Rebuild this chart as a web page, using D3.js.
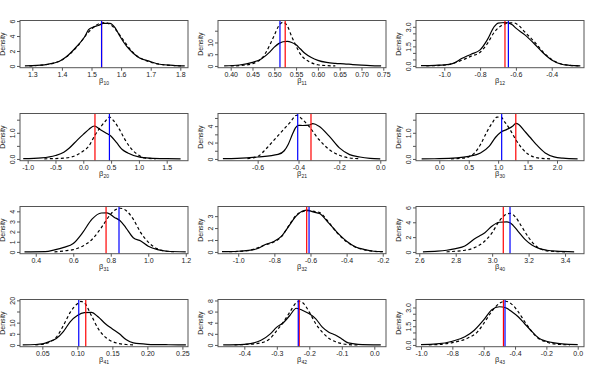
<!DOCTYPE html>
<html><head><meta charset="utf-8">
<script src="https://cdn.jsdelivr.net/npm/d3@7"></script>
<style>
body{margin:0;background:#fff}
svg{display:block}
text{font-family:"Liberation Sans",Arial,Helvetica,sans-serif;fill:#222}
</style>
</head><body><svg id="c" width="595" height="372"></svg>
<script>
// ---- data ----
const subscripts = ["10","11","12","20","21","30","31","32","40","41","42","43"];

const xTickLabels = [
  ["1.3","1.4","1.5","1.6","1.7","1.8"],
  ["0.40","0.45","0.50","0.55","0.60","0.65","0.70","0.75"],
  ["-1.0","-0.8","-0.6","-0.4"],
  ["-1.0","-0.5","0.0","0.5","1.0","1.5"],
  ["-0.6","-0.4","-0.2","0.0"],
  ["0.0","0.5","1.0","1.5","2.0"],
  ["0.4","0.6","0.8","1.0","1.2"],
  ["-1.0","-0.8","-0.6","-0.4","-0.2"],
  ["2.6","2.8","3.0","3.2","3.4"],
  ["0.05","0.10","0.15","0.20","0.25"],
  ["-0.4","-0.3","-0.2","-0.1","0.0"],
  ["-1.0","-0.8","-0.6","-0.4","-0.2","0.0"]
];

const yTickValues = [
  [0,2,4,6],
  [0,5,10,15],
  [0,0.5,1,1.5,2,2.5,3],
  [0,0.5,1,1.5],
  [0,1,2,3,4,5],
  [0,0.5,1,1.5],
  [0,1,2,3,4],
  [0,1,2,3],
  [0,2,4,6],
  [0,5,10,15,20],
  [0,2,4,6,8],
  [0,0.5,1,1.5,2,2.5,3]
];

const yTickLabels = [
  ["0","2","4","6"],
  ["0","5","10",""],
  ["0.0","","","1.5","","","3.0"],
  ["0.0","","1.0",""],
  ["0","","2","","4",""],
  ["0.0","","1.0",""],
  ["0","1","2","3","4"],
  ["0","1","2","3"],
  ["0","2","4","6"],
  ["0","5","10","","20"],
  ["0","2","4","6","8"],
  ["0.0","","","1.5","","","3.0"]
];

const xLimits = [
  [1.2584,1.826],[0.3709,0.7562],[-1.158,-0.2196],
  [-1.138,1.883],[-0.794,0.028],[-0.396,2.459],
  [0.316,1.212],[-1.112,-0.182],[2.582,3.504],
  [0.0181,0.258],[-0.481,0.036],[-1.032,0.040]
];

const yMaxima = [5.84,18.6,3.35,1.67,5.33,1.67,4.3,3.66,5.89,19.6,7.86,3.5];

const redLines  = [1.534,0.525,-0.661,0.21,-0.339,1.30,0.775,-0.621,3.061,0.112,-0.231,-0.474];
const blueLines = [1.534,0.513,-0.642,0.47,-0.404,1.06,0.844,-0.608,3.098,0.102,-0.234,-0.464];

const solidDensity = [
  [[1.275,0.01],[1.30,0.04],[1.35,0.22],[1.39,0.59],[1.416,1.26],[1.45,2.6],[1.478,3.96],[1.49,4.86],[1.506,5.2],[1.523,5.4],[1.54,5.68],[1.562,5.7],[1.58,5.1],[1.596,3.96],[1.619,2.6],[1.641,1.7],[1.664,1.04],[1.692,0.68],[1.73,0.23],[1.776,0.09],[1.815,0.01]],
  [[0.385,0.05],[0.42,0.4],[0.45,1.5],[0.47,3.0],[0.49,6.0],[0.50,8.0],[0.51,9.5],[0.52,10.3],[0.53,10.5],[0.54,10.0],[0.55,9.0],[0.56,7.2],[0.57,5.4],[0.585,3.6],[0.60,2.4],[0.62,1.5],[0.64,1.1],[0.66,0.9],[0.68,0.6],[0.70,0.35],[0.72,0.15],[0.745,0.05]],
  [[-1.13,0.02],[-1.05,0.05],[-1.0,0.08],[-0.95,0.2],[-0.9,0.59],[-0.85,0.9],[-0.8,1.23],[-0.76,2.0],[-0.72,3.03],[-0.70,3.28],[-0.66,3.33],[-0.62,3.15],[-0.60,2.9],[-0.55,2.38],[-0.5,1.74],[-0.45,1.03],[-0.4,0.46],[-0.35,0.15],[-0.3,0.05],[-0.24,0.01]],
  [[-1.08,0.01],[-0.75,0.04],[-0.5,0.13],[-0.35,0.26],[-0.25,0.42],[-0.1,0.74],[0.0,0.94],[0.1,1.13],[0.2,1.26],[0.3,1.13],[0.4,1.0],[0.5,0.87],[0.6,0.62],[0.7,0.36],[0.8,0.23],[1.0,0.08],[1.2,0.03],[1.5,0.01],[1.75,0.005]],
  [[-0.77,0.03],[-0.7,0.07],[-0.6,0.24],[-0.5,0.55],[-0.47,1.0],[-0.45,1.8],[-0.43,3.0],[-0.415,3.8],[-0.40,4.1],[-0.38,4.08],[-0.35,4.12],[-0.33,4.3],[-0.3,4.0],[-0.25,2.78],[-0.2,1.35],[-0.15,0.53],[-0.1,0.24],[-0.05,0.08],[0.0,0.02]],
  [[-0.3,0.005],[0.0,0.01],[0.3,0.04],[0.5,0.1],[0.7,0.23],[0.85,0.49],[0.95,0.81],[1.05,1.03],[1.15,1.13],[1.25,1.26],[1.3,1.36],[1.35,1.32],[1.45,1.06],[1.55,0.81],[1.65,0.55],[1.8,0.23],[1.95,0.08],[2.1,0.03],[2.35,0.005]],
  [[0.34,0.01],[0.45,0.03],[0.5,0.2],[0.55,0.45],[0.6,0.83],[0.65,1.9],[0.7,3.23],[0.75,3.83],[0.78,3.85],[0.82,3.4],[0.85,3.07],[0.88,2.4],[0.92,1.4],[0.96,1.07],[1.0,0.57],[1.05,0.23],[1.1,0.07],[1.2,0.01]],
  [[-1.09,0.02],[-1.0,0.06],[-0.9,0.25],[-0.85,0.62],[-0.8,0.9],[-0.76,1.32],[-0.72,2.16],[-0.68,3.0],[-0.64,3.45],[-0.62,3.5],[-0.58,3.33],[-0.55,3.22],[-0.5,2.44],[-0.45,1.6],[-0.4,0.9],[-0.35,0.42],[-0.3,0.2],[-0.25,0.06],[-0.2,0.02]],
  [[2.62,0.02],[2.7,0.1],[2.75,0.23],[2.8,0.45],[2.85,0.8],[2.9,1.7],[2.93,2.15],[2.96,2.6],[3.0,3.5],[3.04,4.0],[3.08,4.05],[3.1,3.9],[3.14,2.85],[3.18,1.7],[3.22,0.9],[3.26,0.45],[3.3,0.23],[3.35,0.1],[3.45,0.02]],
  [[0.022,0.05],[0.04,0.2],[0.05,0.5],[0.06,1.5],[0.07,2.9],[0.08,6.0],[0.09,10.5],[0.10,13.2],[0.11,14.5],[0.12,14.6],[0.13,12.5],[0.14,9.5],[0.15,7.2],[0.16,5.0],[0.17,2.3],[0.18,0.9],[0.20,0.3],[0.23,0.1],[0.255,0.05]],
  [[-0.465,0.02],[-0.4,0.12],[-0.35,0.8],[-0.32,2.0],[-0.3,3.2],[-0.28,4.0],[-0.26,5.3],[-0.24,6.6],[-0.22,6.2],[-0.2,5.6],[-0.18,4.7],[-0.16,3.2],[-0.14,2.3],[-0.12,1.8],[-0.1,1.08],[-0.08,0.36],[-0.05,0.12],[0.02,0.02]],
  [[-1.0,0.02],[-0.9,0.08],[-0.8,0.3],[-0.72,0.65],[-0.66,1.18],[-0.6,2.0],[-0.55,2.8],[-0.5,3.06],[-0.46,2.98],[-0.42,2.66],[-0.38,2.26],[-0.34,1.72],[-0.3,1.18],[-0.25,0.56],[-0.2,0.3],[-0.15,0.16],[-0.1,0.08],[0.0,0.02]]
];

const dashedDensity = [
  [[1.29,0.01],[1.33,0.1],[1.37,0.35],[1.40,0.8],[1.43,1.7],[1.46,3.0],[1.485,4.3],[1.505,5.1],[1.525,5.65],[1.545,5.8],[1.565,5.5],[1.585,4.7],[1.605,3.6],[1.625,2.5],[1.645,1.6],[1.67,0.95],[1.70,0.5],[1.74,0.17],[1.78,0.05],[1.81,0.01]],
  [[0.40,0.0],[0.43,0.3],[0.455,1.3],[0.47,3.0],[0.48,5.5],[0.49,9.0],[0.50,13.0],[0.51,17.0],[0.52,18.6],[0.53,17.0],[0.54,12.5],[0.55,8.5],[0.56,5.0],[0.57,3.0],[0.58,1.8],[0.59,1.0],[0.60,0.5],[0.62,0.15],[0.64,0.03]],
  [[-1.1,0.01],[-1.0,0.06],[-0.95,0.2],[-0.9,0.45],[-0.85,0.75],[-0.8,1.05],[-0.76,1.7],[-0.72,2.6],[-0.68,3.1],[-0.64,3.3],[-0.61,3.3],[-0.58,3.05],[-0.55,2.6],[-0.5,1.9],[-0.45,1.1],[-0.4,0.5],[-0.35,0.17],[-0.3,0.05],[-0.25,0.01]],
  [[-0.7,0.005],[-0.3,0.04],[-0.1,0.17],[0.0,0.3],[0.1,0.49],[0.2,0.87],[0.3,1.19],[0.4,1.45],[0.47,1.6],[0.55,1.45],[0.65,1.13],[0.75,0.74],[0.85,0.42],[1.0,0.14],[1.1,0.04],[1.3,0.005]],
  [[-0.65,0.05],[-0.6,0.3],[-0.56,1.2],[-0.52,2.3],[-0.48,3.4],[-0.44,4.5],[-0.41,5.33],[-0.38,4.8],[-0.35,4.0],[-0.3,2.37],[-0.25,1.14],[-0.2,0.45],[-0.15,0.12],[-0.1,0.03]],
  [[0.2,0.005],[0.4,0.03],[0.5,0.08],[0.6,0.23],[0.7,0.55],[0.8,1.0],[0.9,1.38],[0.98,1.6],[1.05,1.6],[1.1,1.45],[1.2,1.13],[1.3,0.74],[1.4,0.42],[1.5,0.2],[1.6,0.08],[1.7,0.03],[1.9,0.005]],
  [[0.5,0.01],[0.55,0.1],[0.6,0.23],[0.65,0.57],[0.7,1.23],[0.75,2.4],[0.8,3.73],[0.83,4.2],[0.85,4.3],[0.88,4.1],[0.92,3.23],[0.96,1.9],[1.0,0.97],[1.05,0.3],[1.1,0.07],[1.15,0.01]],
  [[-1.05,0.02],[-0.95,0.1],[-0.9,0.3],[-0.85,0.6],[-0.8,0.85],[-0.76,1.3],[-0.72,2.2],[-0.68,3.05],[-0.64,3.4],[-0.61,3.45],[-0.58,3.4],[-0.55,3.3],[-0.5,2.5],[-0.45,1.55],[-0.4,0.85],[-0.35,0.4],[-0.3,0.18],[-0.25,0.06],[-0.2,0.02]],
  [[2.75,0.02],[2.8,0.1],[2.85,0.23],[2.9,0.55],[2.95,1.26],[3.0,2.6],[3.04,4.2],[3.08,5.1],[3.1,5.2],[3.13,4.64],[3.16,3.5],[3.2,1.95],[3.24,0.8],[3.28,0.27],[3.32,0.1],[3.4,0.02]],
  [[0.04,0.05],[0.05,0.3],[0.06,1.2],[0.07,3.5],[0.08,8.7],[0.09,14.7],[0.10,18.5],[0.105,19.5],[0.11,18.9],[0.12,13.2],[0.13,7.2],[0.14,3.5],[0.15,1.5],[0.16,0.6],[0.17,0.2],[0.18,0.05]],
  [[-0.43,0.02],[-0.4,0.08],[-0.35,0.36],[-0.32,1.2],[-0.3,2.6],[-0.28,4.1],[-0.26,5.9],[-0.24,7.6],[-0.23,7.86],[-0.22,7.6],[-0.2,5.9],[-0.18,3.8],[-0.16,2.3],[-0.14,1.2],[-0.12,0.6],[-0.1,0.24],[-0.08,0.06],[-0.05,0.01]],
  [[-0.95,0.01],[-0.9,0.03],[-0.8,0.19],[-0.7,0.56],[-0.64,1.05],[-0.6,1.72],[-0.55,2.66],[-0.5,3.33],[-0.46,3.5],[-0.42,3.25],[-0.38,2.66],[-0.34,1.9],[-0.3,1.18],[-0.25,0.51],[-0.2,0.24],[-0.15,0.08],[-0.1,0.03],[-0.05,0.01]]
];

// ---- drawing ----
const svg = d3.select("#c");
const W = 168, H = 47.2;
const colStep = 198, rowStep = 93;

subscripts.forEach((sub, i) => {
  const r = Math.floor(i / 3), c = i % 3;
  const left = 20 + c * colStep, top = 20.5 + r * rowStep;
  const g = svg.append("g").attr("transform", `translate(${left},${top})`);
  const x = d3.scaleLinear().domain(xLimits[i]).range([0, W]);
  const M = yMaxima[i];
  const y = d3.scaleLinear().domain([-0.04 * M, 1.04 * M]).range([H, 0]);

  const clipId = "clip" + i;
  g.append("clipPath").attr("id", clipId).append("rect")
    .attr("x", 0).attr("y", 0).attr("width", W).attr("height", H);
  const plot = g.append("g").attr("clip-path", `url(#${clipId})`);

  const line = d3.line().x(d => x(d[0])).y(d => y(d[1])).curve(d3.curveMonotoneX);

  plot.append("path").datum(dashedDensity[i]).attr("d", line)
    .attr("fill", "none").attr("stroke", "#000").attr("stroke-width", 1.2)
    .attr("stroke-dasharray", "3,2.5");
  plot.append("path").datum(solidDensity[i]).attr("d", line)
    .attr("fill", "none").attr("stroke", "#000").attr("stroke-width", 1.2);

  plot.append("line").attr("x1", x(redLines[i])).attr("x2", x(redLines[i]))
    .attr("y1", 0).attr("y2", H).attr("stroke", "#ff0000").attr("stroke-width", 1.2);
  plot.append("line").attr("x1", x(blueLines[i])).attr("x2", x(blueLines[i]))
    .attr("y1", 0).attr("y2", H).attr("stroke", "#0000ff").attr("stroke-width", 1.2);

  // box
  g.append("rect").attr("x", 0).attr("y", 0).attr("width", W).attr("height", H)
    .attr("fill", "none").attr("stroke", "#555").attr("stroke-width", 1);

  // x axis
  const xt = xTickLabels[i];
  const xa = g.append("g").attr("transform", `translate(0,${H})`)
    .call(d3.axisBottom(x).tickValues(xt.map(Number)).tickFormat((d, j) => xt[j])
      .tickSize(3).tickPadding(1));
  xa.select(".domain").remove();
  xa.selectAll(".tick line").attr("stroke", "#555");
  xa.selectAll(".tick text").attr("font-size", 7).attr("fill", "#222")
    .style("font-family", '"Liberation Sans",Arial,sans-serif');

  // y axis
  const yl = yTickLabels[i];
  const ya = g.append("g")
    .call(d3.axisLeft(y).tickValues(yTickValues[i]).tickFormat((d, j) => yl[j]).tickSize(3));
  ya.select(".domain").remove();
  ya.selectAll(".tick line").attr("stroke", "#555");
  ya.selectAll(".tick text").attr("font-size", 7).attr("fill", "#222")
    .attr("transform", "rotate(-90)").attr("x", 0).attr("y", -5.5).attr("dy", 0)
    .style("text-anchor", "middle")
    .style("font-family", '"Liberation Sans",Arial,sans-serif');

  // axis titles
  g.append("text").attr("transform", `translate(${-15},${H / 2}) rotate(-90)`)
    .attr("text-anchor", "middle").attr("font-size", 7).text("Density");
  const xl = g.append("text").attr("x", W / 2).attr("y", H + 15.5)
    .attr("text-anchor", "middle").attr("font-size", 7.5);
  xl.append("tspan").text("β");
  xl.append("tspan").attr("font-size", 5).attr("dy", 1.5).text(sub);
});
</script>
</body></html>
